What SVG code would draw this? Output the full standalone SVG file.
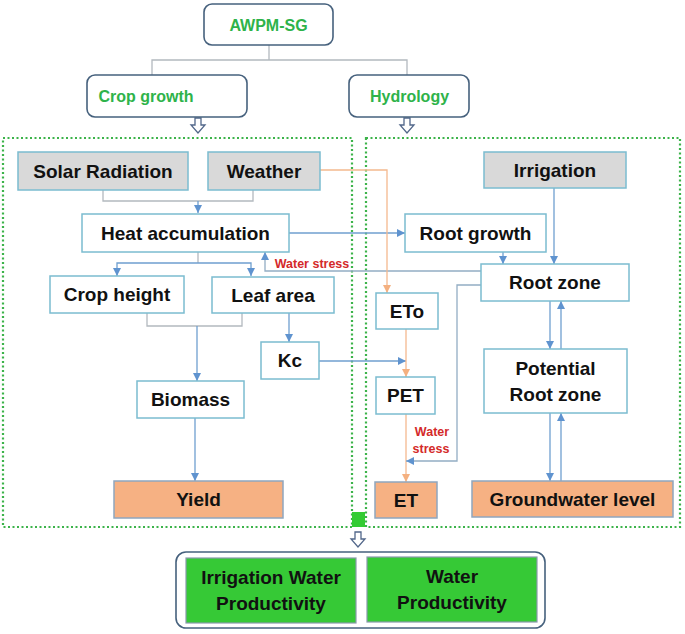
<svg xmlns="http://www.w3.org/2000/svg" width="685" height="634" viewBox="0 0 685 634">
<style>
.t{font-family:"Liberation Sans",Arial,sans-serif;font-weight:bold;fill:#111;text-anchor:middle}
.n{font-size:19px}
.g{font-size:16px;fill:#2eb34a}
.ws{font-size:12.5px;fill:#d42a2a}
.top{fill:#fff;stroke:#46617d;stroke-width:1.6}
.box{fill:#fff;stroke:#7bbcd0;stroke-width:1.5}
.gray{fill:#d9d9d9;stroke:#7bbcd0;stroke-width:1.5}
.org{fill:#f6b183;stroke:#8fa6bf;stroke-width:1.5}
.grn{fill:#36c936;stroke:#8a9aac;stroke-width:1.2}
.dot{fill:none;stroke:#3cb34a;stroke-width:2.2;stroke-dasharray:2 2.5}
.hol{fill:#fff;stroke:#52678a;stroke-width:1.3}
.c{fill:none;stroke-width:1.3}
.gl{stroke:#b3b9bf}
.bl{stroke:#6f9fcf}
.bg{stroke:#93adc4}
.or{stroke:#f4b98f}
</style>
<defs>
<marker id="ab" markerUnits="userSpaceOnUse" markerWidth="10" markerHeight="10" refX="9" refY="5" orient="auto">
<path d="M1 1 L9 5 L1 9 Z" fill="#5f93cf"/>
</marker>
<marker id="ao" markerUnits="userSpaceOnUse" markerWidth="10" markerHeight="10" refX="9" refY="5" orient="auto">
<path d="M1 1 L9 5 L1 9 Z" fill="#f4b080"/>
</marker>
</defs>

<g id="containers">
<rect class="dot" x="3" y="138" width="349" height="389"/>
<rect class="dot" x="366" y="138" width="314" height="389"/>
<rect x="352" y="512" width="13" height="15" fill="#33cc33"/>
</g>

<g id="connectors">
<path class="c gl" d="M269 45 V60 M152 75 V60 H407 V75"/>
<path class="c gl" d="M103 190 V201 H253 V190"/>
<path class="c bl" d="M198 201 V213" marker-end="url(#ab)"/>
<path class="c gl" d="M198 252 V263"/>
<path class="c bl" d="M198 263 H117 V276" marker-end="url(#ab)"/>
<path class="c bl" d="M198 263 H251 V276" marker-end="url(#ab)"/>
<path class="c gl" d="M147 313 V326 H242 V313"/>
<path class="c bl" d="M197 326 V381" marker-end="url(#ab)"/>
<path class="c bl" d="M289 313 V342" marker-end="url(#ab)"/>
<path class="c bl" d="M195 418 V481" marker-end="url(#ab)"/>
<path class="c bl" d="M289 233 H405" marker-end="url(#ab)"/>
<path class="c bl" d="M503 252 V264" marker-end="url(#ab)"/>
<path class="c bl" d="M554 188 V264" marker-end="url(#ab)"/>
<path class="c bg" d="M481 271 H265 V252" marker-end="url(#ab)"/>
<path class="c or" d="M320 170 H387 V293" marker-end="url(#ao)"/>
<path class="c bl" d="M319 361 H406" marker-end="url(#ab)"/>
<path class="c or" d="M406 329 V377" marker-end="url(#ao)"/>
<path class="c or" d="M406 414 V482" marker-end="url(#ao)"/>
<path class="c bg" d="M481 285 H457 V461 H406" marker-end="url(#ab)"/>
<path class="c bl" d="M550 301 V349" marker-end="url(#ab)"/>
<path class="c bl" d="M561 349 V301" marker-end="url(#ab)"/>
<path class="c bl" d="M550 413 V481" marker-end="url(#ab)"/>
<path class="c bl" d="M561 481 V413" marker-end="url(#ab)"/>
<path class="hol" d="M195 118 H201 V125 H205 L198 133 L191 125 H195 Z"/>
<path class="hol" d="M404 118 H410 V125 H414 L407 133 L400 125 H404 Z"/>
<path class="hol" d="M355 532 H361 V539 H365 L358 547 L351 539 H355 Z"/>
<text class="t ws" x="312" y="268">Water stress</text>
<text class="t ws" x="432" y="436" font-size="13">Water</text>
<text class="t ws" x="431" y="453" font-size="13">stress</text>
</g>

<g id="awpm"><rect class="top" x="204" y="4" width="129" height="41" rx="8"/><text class="t g" x="268.5" y="31" font-size="17">AWPM-SG</text></g>
<g id="crop-growth"><rect class="top" x="87" y="75" width="160" height="42" rx="8"/><text class="t g" x="146" y="102">Crop growth</text></g>
<g id="hydrology"><rect class="top" x="349" y="75" width="120" height="42" rx="8"/><text class="t g" x="409.5" y="102">Hydrology</text></g>

<g id="solar"><rect class="gray" x="18" y="152" width="170" height="38"/><text class="t n" x="103" y="178">Solar Radiation</text></g>
<g id="weather"><rect class="gray" x="208" y="152" width="112" height="38"/><text class="t n" x="264" y="178">Weather</text></g>
<g id="irrigation"><rect class="gray" x="484" y="152" width="142" height="36"/><text class="t n" x="555" y="177">Irrigation</text></g>
<g id="heat"><rect class="box" x="82" y="214" width="207" height="38"/><text class="t n" x="185.5" y="240">Heat accumulation</text></g>
<g id="root-growth"><rect class="box" x="405" y="214" width="141" height="38"/><text class="t n" x="475.5" y="240">Root growth</text></g>
<g id="root-zone"><rect class="box" x="481" y="264" width="148" height="37"/><text class="t n" x="555" y="289">Root zone</text></g>
<g id="crop-height"><rect class="box" x="50" y="276" width="134" height="37"/><text class="t n" x="117" y="301">Crop height</text></g>
<g id="leaf-area"><rect class="box" x="212" y="277" width="122" height="36"/><text class="t n" x="273" y="302">Leaf area</text></g>
<g id="eto"><rect class="box" x="376" y="293" width="62" height="36"/><text class="t n" x="407" y="318">ETo</text></g>
<g id="kc"><rect class="box" x="261" y="342" width="58" height="37"/><text class="t n" x="290" y="367">Kc</text></g>
<g id="potential"><rect class="box" x="484" y="349" width="143" height="64"/><text class="t n" x="555.5" y="375">Potential</text><text class="t n" x="555.5" y="401">Root zone</text></g>
<g id="pet"><rect class="box" x="376" y="377" width="59" height="37"/><text class="t n" x="405.5" y="402">PET</text></g>
<g id="biomass"><rect class="box" x="137" y="381" width="107" height="37"/><text class="t n" x="190.5" y="406">Biomass</text></g>
<g id="yield"><rect class="org" x="114" y="481" width="169" height="37"/><text class="t n" x="198.5" y="506">Yield</text></g>
<g id="et"><rect class="org" x="375" y="482" width="62" height="36"/><text class="t n" x="406" y="507">ET</text></g>
<g id="groundwater"><rect class="org" x="472" y="481" width="201" height="36"/><text class="t n" x="572.5" y="506">Groundwater level</text></g>

<g id="outputs">
<rect class="top" x="176" y="552" width="369" height="76" rx="10"/>
<rect class="grn" x="186" y="558" width="170" height="65"/>
<text class="t n" x="271" y="584">Irrigation Water</text>
<text class="t n" x="271" y="610">Productivity</text>
<rect class="grn" x="367" y="557" width="170" height="65"/>
<text class="t n" x="452" y="583">Water</text>
<text class="t n" x="452" y="609">Productivity</text>
</g>
</svg>
